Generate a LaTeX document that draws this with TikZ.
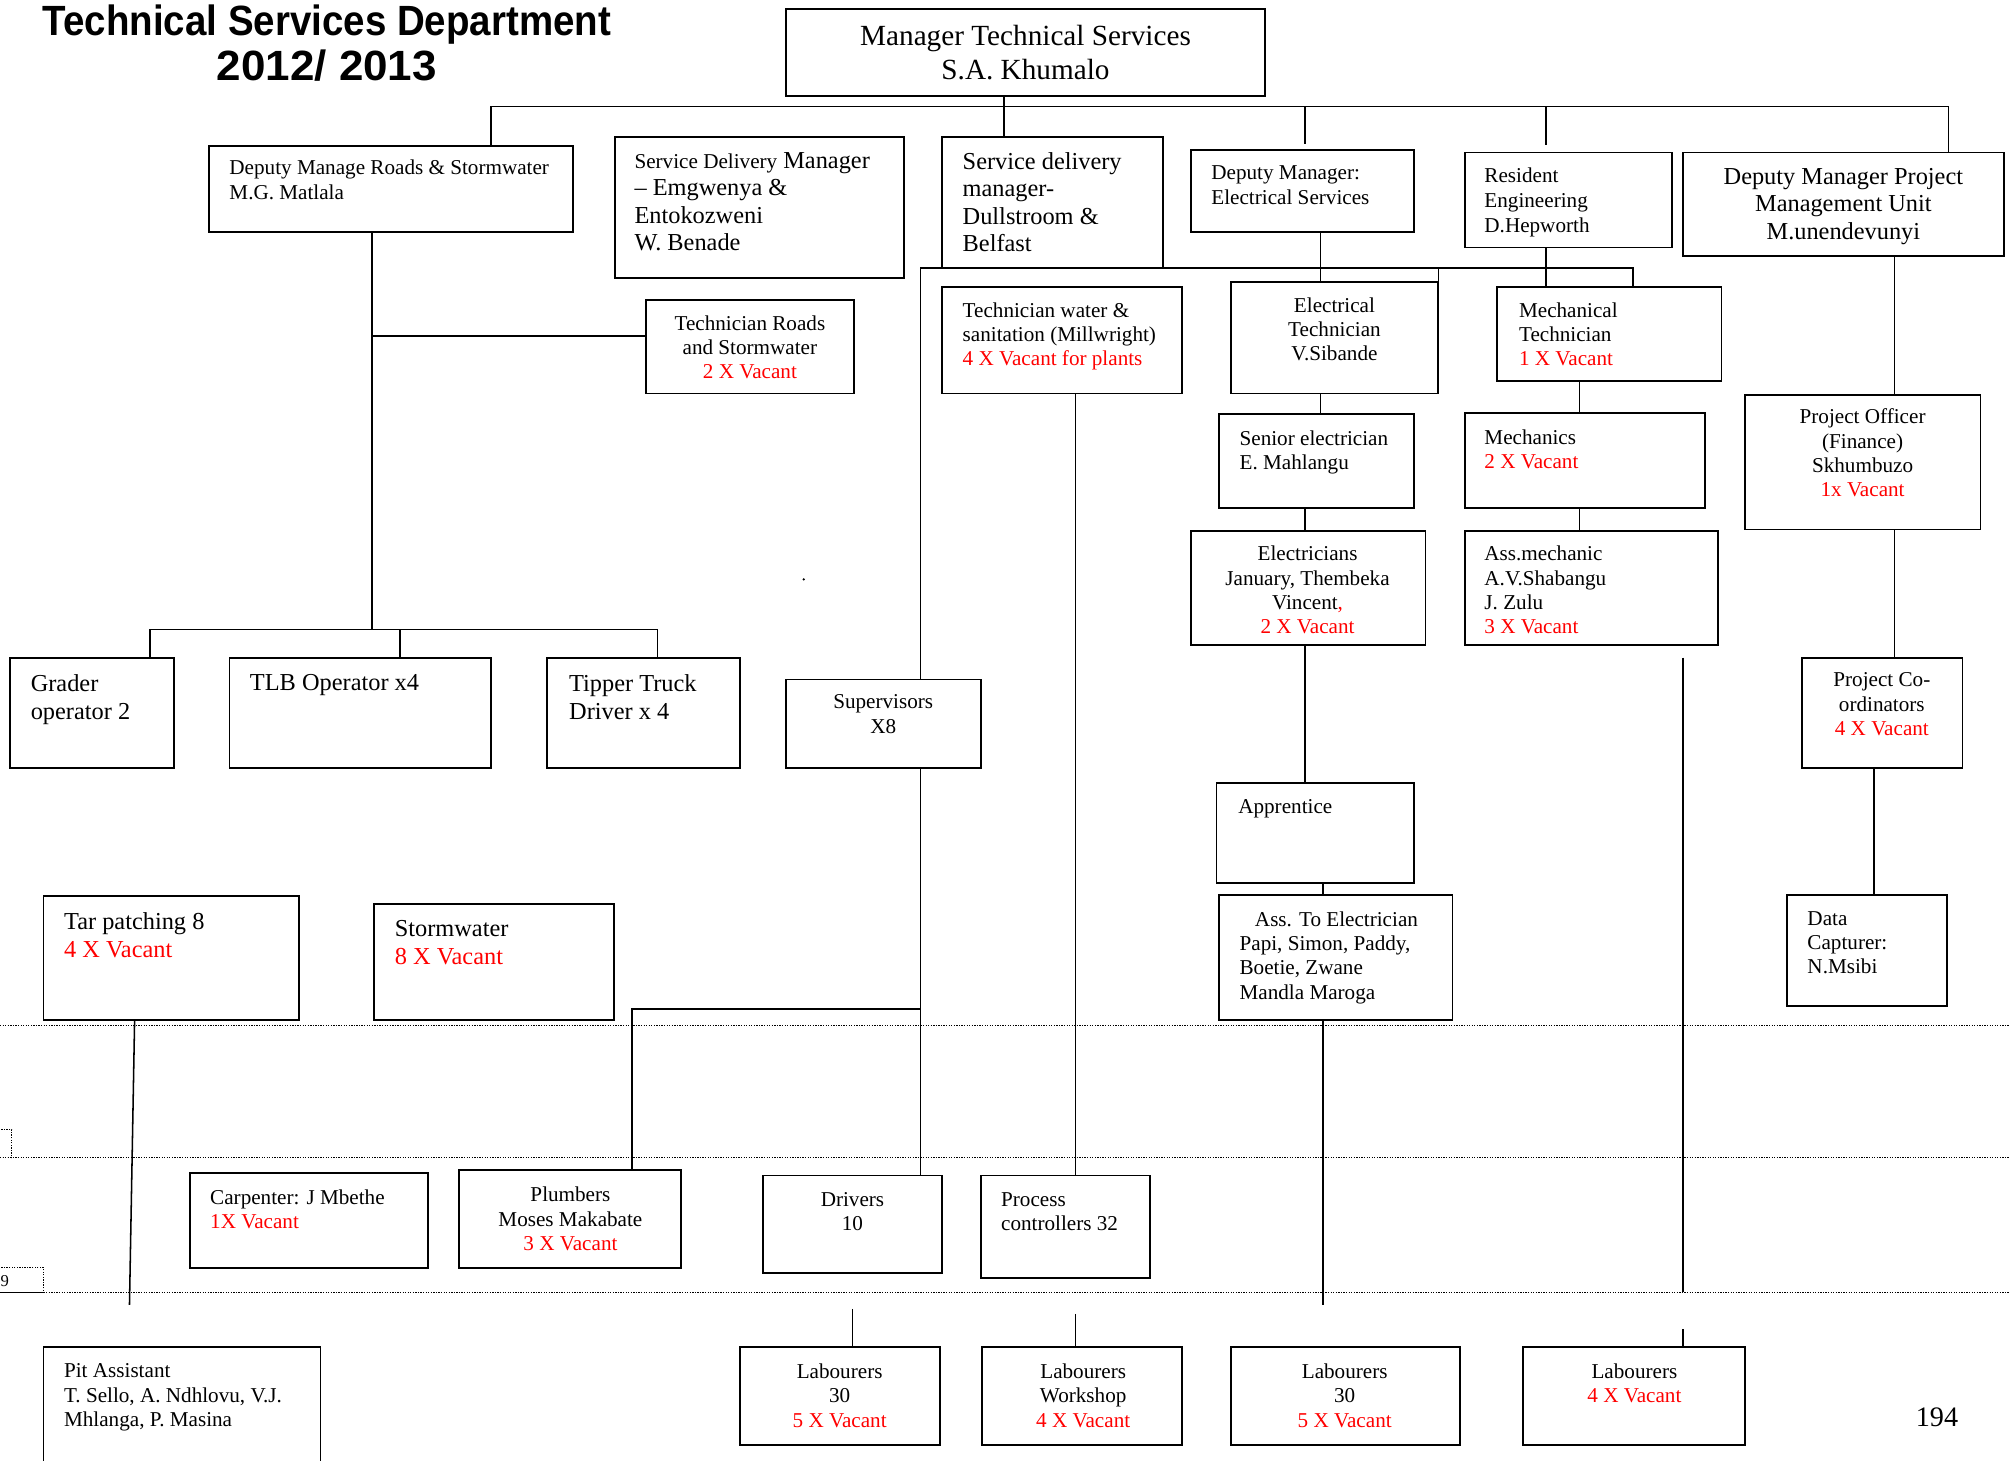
\documentclass[tikz,border=0pt]{standalone}
\usepackage{fontspec}
\setmainfont{Liberation Serif}
\newfontfamily\titlefont{Liberation Sans}
\usetikzlibrary{fit,calc}
\definecolor{vacred}{RGB}{255,0,0}
\newcommand\vac[1]{\textcolor{vacred}{#1}}
\tikzset{
  every node/.style={inner sep=0pt, outer sep=0pt},
  orgbox/.style={draw, line width=1.4pt, inner sep=0pt},
  conn/.style={line width=1.2pt},
  sepline/.style={line width=0.9pt, dash pattern=on 1pt off 1pt},
  ts/.style={font=\fontsize{16.5}{19}\selectfont, align=left, anchor=north west},
  tsc/.style={font=\fontsize{16.5}{19}\selectfont, align=center, anchor=north},
  tm/.style={font=\fontsize{19}{22}\selectfont, align=left, anchor=north west},
  tmc/.style={font=\fontsize{19}{21.5}\selectfont, align=center, anchor=north},
  tl/.style={font=\fontsize{22.8}{26}\selectfont, align=center, anchor=north},
}
\begin{document}
\begin{tikzpicture}[x=1pt,y=-1pt]
\useasboundingbox (0,0) rectangle (1568,1139);

% separator lines
\draw[sepline] (0,800) -- (1568,800);
\draw[sepline] (0,903) -- (1568,903);
\draw[sepline] (0,1008) -- (1568,1008);
\draw[sepline] (-2,881) rectangle (9,903);
\draw[sepline] (-2,989) rectangle (34,1008);
\node[font=\fontsize{13}{15}\selectfont, anchor=west] (nine) at (0.5,999) {9};

% title
\node[font=\titlefont\bfseries\fontsize{33}{35}\selectfont, align=center, anchor=north] (title) at (255,4) {\scalebox{0.91}[1]{Technical Services Department}\\\scalebox{1.04}[1]{2012/ 2013}};

% boxes
\node[orgbox, fit={(613,7)(987,75)}] (mgr) {};
\node[orgbox, fit={(163,114)(447,181)}] (droads) {};
\node[orgbox, fit={(480,107)(705,217)}] (sde) {};
\node[orgbox, fit={(735,107)(907,209)}] (sdd) {};
\node[orgbox, fit={(929,117)(1103,181)}] (depel) {};
\node[orgbox, fit={(1143,119)(1304,193)}] (res) {};
\node[orgbox, fit={(1313,119)(1563,200)}] (pmu) {};
\node[orgbox, fit={(504,234)(666,307)}] (techr) {};
\node[orgbox, fit={(735,224)(922,307)}] (techw) {};
\node[orgbox, fit={(960,220)(1122,307)}] (etech) {};
\node[orgbox, fit={(1168,224)(1343,297)}] (mech) {};
\node[orgbox, fit={(951,323)(1103,396)}] (senel) {};
\node[orgbox, fit={(1143,322)(1330,396)}] (mechs) {};
\node[orgbox, fit={(1361,308)(1545,413)}] (poff) {};
\node[orgbox, fit={(929,414)(1112,503)}] (elec) {};
\node[orgbox, fit={(1143,414)(1340,503)}] (assm) {};
\node[orgbox, fit={(8,513)(136,599)}] (grader) {};
\node[orgbox, fit={(179,513)(383,599)}] (tlb) {};
\node[orgbox, fit={(427,513)(577,599)}] (tipper) {};
\node[orgbox, fit={(613,530)(765,599)}] (sup) {};
\node[orgbox, fit={(1406,513)(1531,599)}] (pco) {};
\node[orgbox, fit={(949,611)(1103,689)}] (appr) {};
\node[orgbox, fit={(951,698)(1133,796)}] (assel) {};
\node[orgbox, fit={(1394,698)(1519,785)}] (data) {};
\node[orgbox, fit={(34,699)(233,796)}] (tar) {};
\node[orgbox, fit={(292,705)(479,796)}] (storm) {};
\node[orgbox, fit={(148,915)(334,989)}] (carp) {};
\node[orgbox, fit={(358,913)(531,989)}] (plumb) {};
\node[orgbox, fit={(595,917)(735,993)}] (drv) {};
\node[orgbox, fit={(765,917)(897,997)}] (proc) {};
\node[orgbox, fit={(577,1051)(733,1127)}] (lab1) {};
\node[orgbox, fit={(766,1051)(922,1127)}] (labw) {};
\node[orgbox, fit={(960,1051)(1139,1127)}] (lab2) {};
\node[orgbox, fit={(1188,1051)(1361,1127)}] (lab4) {};
\node[orgbox, fit={(34,1051)(250,1150)}] (pit) {};

% texts
\node[tl] (tmgr) at (800,20) {Manager Technical Services\\S.A. Khumalo};
\node[ts] (tdroads) at (179,125) {Deputy Manage Roads \& Stormwater\\M.G. Matlala};
\node[font=\fontsize{19}{21.3}\selectfont, align=left, anchor=north west] (tsde) at (495,119) {{\fontsize{16.5}{21.3}\selectfont Service Delivery} Manager\\– Emgwenya \&\\Entokozweni\\W. Benade};
\node[font=\fontsize{19}{21.3}\selectfont, align=left, anchor=north west] (tsdd) at (751,119) {Service delivery\\manager-\\Dullstroom \&\\Belfast};
\node[ts, font=\fontsize{16.5}{20}\selectfont] (tdepel) at (945,129) {Deputy Manager:\\Electrical Services};
\node[ts, font=\fontsize{16.5}{19.5}\selectfont] (tres) at (1158,131) {Resident\\Engineering\\D.Hepworth};
\node[tmc] (tpmu) at (1438,131) {Deputy Manager Project\\Management Unit\\M.unendevunyi};
\node[tsc] (ttechr) at (585,246) {Technician Roads\\and Stormwater\\\vac{2 X Vacant}};
\node[ts] (ttechw) at (751,236) {Technician water \&\\sanitation (Millwright)\\\vac{4 X Vacant for plants}};
\node[tsc] (tetech) at (1041,232) {Electrical\\Technician\\V.Sibande};
\node[ts] (tmech) at (1185,236) {Mechanical\\Technician\\\vac{1 X Vacant}};
\node[ts] (tsenel) at (967,336) {Senior electrician\\E. Mahlangu};
\node[ts] (tmechs) at (1158,335) {Mechanics\\\vac{2 X Vacant}};
\node[tsc] (tpoff) at (1453,319) {Project Officer\\(Finance)\\Skhumbuzo\\\vac{1x Vacant}};
\node[tsc] (telec) at (1020,426) {Electricians\\January, Thembeka\\Vincent\vac{,}\\\vac{2 X Vacant}};
\node[ts] (tassm) at (1158,426) {Ass.mechanic\\A.V.Shabangu\\J. Zulu\\\vac{3 X Vacant}};
\node[tm] (tgrader) at (24,526) {Grader\\operator 2};
\node[tm] (ttlb) at (195,526) {TLB Operator x4};
\node[tm] (ttipper) at (444,526) {Tipper Truck\\Driver x 4};
\node[tsc] (tsup) at (689,542) {Supervisors\\X8};
\node[tsc] (tpco) at (1468,525) {Project Co-\\ordinators\\\vac{4 X Vacant}};
\node[ts] (tappr) at (966,624) {Apprentice};
\node[ts] (tassel) at (967,711) {\hspace*{12pt}Ass. To Electrician\\Papi, Simon, Paddy,\\Boetie, Zwane\\Mandla Maroga};
\node[ts] (tdata) at (1410,711) {Data\\Capturer:\\N.Msibi};
\node[tm] (ttar) at (50,712) {Tar patching 8\\\vac{4 X Vacant}};
\node[tm] (tstorm) at (308,718) {Stormwater\\\vac{8 X Vacant}};
\node[ts] (tcarp) at (164,928) {Carpenter: J Mbethe\\\vac{1X Vacant}};
\node[tsc] (tplumb) at (445,926) {Plumbers\\Moses Makabate\\\vac{3 X Vacant}};
\node[tsc] (tdrv) at (665,930) {Drivers\\10};
\node[ts] (tproc) at (781,930) {Process\\controllers 32};
\node[tsc] (tlab1) at (655,1064) {Labourers\\30\\\vac{5 X Vacant}};
\node[tsc] (tlabw) at (845,1064) {Labourers\\Workshop\\\vac{4 X Vacant}};
\node[tsc] (tlab2) at (1049,1064) {Labourers\\30\\\vac{5 X Vacant}};
\node[tsc] (tlab4) at (1275,1064) {Labourers\\\vac{4 X Vacant}};
\node[ts] (tpit) at (50,1064) {Pit Assistant\\T. Sello, A. Ndhlovu, V.J.\\Mhlanga, P. Masina};
\node[font=\fontsize{22}{26}\selectfont] (page) at (1511,1106) {194};
\fill (627,452) circle (1pt);

% junction coordinates
\coordinate (jR) at (383,83);
\coordinate (jS) at (783,83);
\coordinate (jE) at (1018,83);
\coordinate (jRe) at (1206,83);
\coordinate (jP) at (1520,83);
\coordinate (rb) at (290,491);
\coordinate (rh) at (290,262);
\coordinate (g1) at (117,491);
\coordinate (l1) at (312,491);
\coordinate (t1) at (513,491);
\coordinate (d1) at (718,209);
\coordinate (d2) at (1274,209);
\coordinate (e1) at (1030,209);
\coordinate (r1) at (1206,209);
\coordinate (s1) at (718,787);
\coordinate (p1) at (493,787);
\coordinate (w1) at (839,307);
\coordinate (e2) at (1030,307);
\coordinate (e3) at (1018,396);
\coordinate (e4) at (1032,689);
\coordinate (e5) at (1032,1018);
\coordinate (m1) at (1232,297);
\coordinate (v1) at (1313,513);
\coordinate (v2) at (1313,1008);
\coordinate (v3) at (1313,1037);
\coordinate (pm1) at (1478,200);
\coordinate (pm2) at (1462,599);
\coordinate (lb1) at (665,1021);
\coordinate (lb2) at (839,1025);
\coordinate (tp) at (105,796);
\coordinate (pt) at (101,1018);

% connectors
\draw[conn] (jR) -- (jP);
\draw[conn] (mgr.south -| jS) -- (sdd.north -| jS);
\draw[conn] (jR) -- (droads.north -| jR);
\draw[conn, shorten >=5pt] (jE) -- (depel.north -| jE);
\draw[conn, shorten >=6pt] (jRe) -- (res.north -| jRe);
\draw[conn] (jP) -- (pmu.north -| jP);

\draw[conn] (droads.south -| rb) -- (rb);
\draw[conn] (rh) -- (techr.west |- rh);
\draw[conn] (grader.north -| g1) -- (g1) -- (t1) -- (tipper.north -| t1);
\draw[conn] (l1) -- (tlb.north -| l1);

\draw[conn] (d1) -- (d2) -- (mech.north -| d2);
\draw[conn] (depel.south -| e1) -- (etech.north -| e1);
\draw[conn] (etech.north east) -- (etech.north east |- d1);
\draw[conn] (res.south -| r1) -- (mech.north -| r1);
\draw[conn] (d1) -- (sup.north -| d1);
\draw[conn] (sup.south -| d1) -- (drv.north -| d1);
\draw[conn] (s1) -- (p1) -- (plumb.north -| p1);
\draw[conn] (techw.south -| w1) -- (proc.north -| w1);

\draw[conn] (etech.south -| e2) -- (senel.north -| e2);
\draw[conn] (senel.south -| e3) -- (elec.north -| e3);
\draw[conn] (elec.south -| e3) -- (appr.north -| e3);
\draw[conn] (appr.south -| e4) -- (assel.north -| e4);
\draw[conn] (assel.south -| e5) -- (e5);

\draw[conn] (mech.south -| m1) -- (mechs.north -| m1);
\draw[conn] (mechs.south -| m1) -- (assm.north -| m1);
\draw[conn] (v1) -- (v2);
\draw[conn] (v3) -- (lab4.north -| v3);

\draw[conn] (pmu.south -| pm1) -- (poff.north -| pm1);
\draw[conn] (poff.south -| pm1) -- (pco.north -| pm1);
\draw[conn] (pco.south -| pm2) -- (data.north -| pm2);

\draw[conn] (lb1) -- (lab1.north -| lb1);
\draw[conn] (lb2) -- (labw.north -| lb2);
\draw[conn] (tar.south -| tp) -- (pt);
\end{tikzpicture}
\end{document}
